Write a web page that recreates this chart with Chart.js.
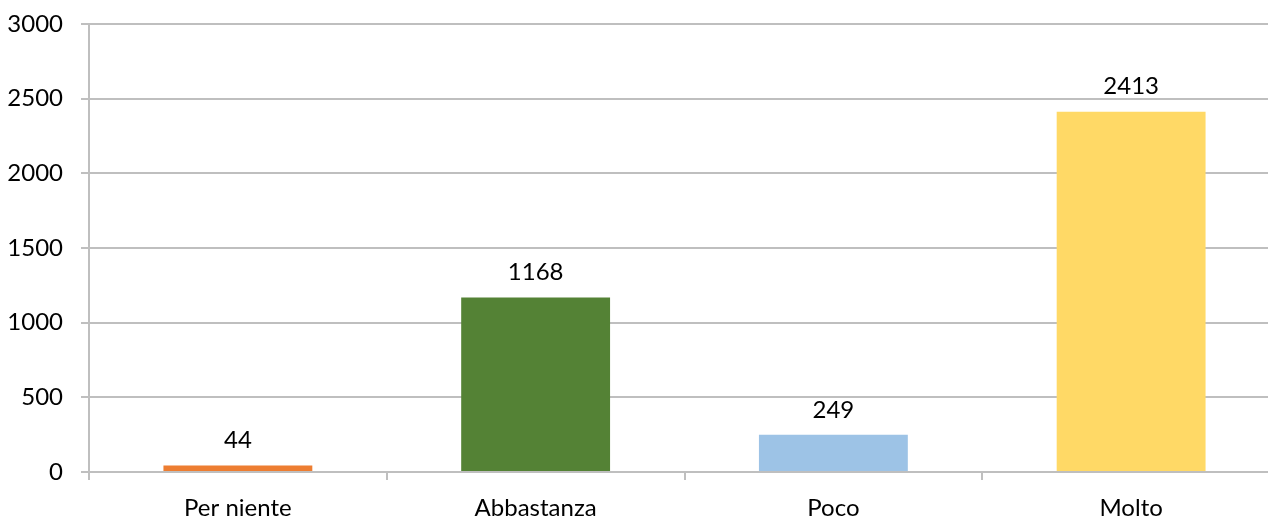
<!DOCTYPE html>
<html>
<head>
<meta charset="utf-8">
<script src="https://cdn.jsdelivr.net/npm/chart.js@4"></script>
<style>
  html, body { margin: 0; padding: 0; background: #fff; overflow: hidden; }
  #wrap { width: 1268px; height: 517px; overflow: hidden; }
</style>
</head>
<body>
<div id="wrap"><canvas id="chart" width="1280" height="517"></canvas></div>
<script>
const categories = ['Per niente', 'Abbastanza', 'Poco', 'Molto'];
const counts = [44, 1168, 249, 2413];
const barColors = ['#ED7D31', '#548235', '#9DC3E6', '#FFD966'];
const yTicks = [0, 500, 1000, 1500, 2000, 2500, 3000];

const fontFamily = 'Lato, "Open Sans", sans-serif';

// draw the value above each bar
const valueLabels = {
  id: 'valueLabels',
  afterDatasetsDraw(chart) {
    const ctx = chart.ctx;
    ctx.save();
    ctx.font = '24px ' + fontFamily;
    ctx.fillStyle = '#000';
    ctx.textAlign = 'center';
    ctx.textBaseline = 'middle';
    chart.getDatasetMeta(0).data.forEach((bar, i) => {
      ctx.fillText(String(counts[i]), bar.x, bar.y - 25);
    });
    ctx.restore();
  }
};

const ctx = document.getElementById('chart').getContext('2d');
new Chart(ctx, {
  type: 'bar',
  data: {
    labels: categories,
    datasets: [{
      data: counts,
      backgroundColor: barColors,
      borderWidth: 0,
      categoryPercentage: 1,
      barPercentage: 0.5
    }]
  },
  options: {
    responsive: false,
    devicePixelRatio: 1,
    animation: false,
    layout: { padding: { top: 24, right: 0, left: 0, bottom: 0 } },
    plugins: {
      legend: { display: false },
      tooltip: { enabled: false }
    },
    scales: {
      x: {
        grid: {
          display: true,
          drawOnChartArea: false,
          drawTicks: true,
          tickLength: 8,
          color: '#BFBFBF',
          lineWidth: 2
        },
        border: { color: '#BFBFBF', width: 2 },
        ticks: {
          color: '#000',
          font: { family: fontFamily, size: 24 },
          padding: 14
        },
        afterFit(scale) { scale.height = 45; }
      },
      y: {
        min: 0,
        max: 3000,
        afterBuildTicks(scale) { scale.ticks = yTicks.map(v => ({ value: v })); },
        grid: {
          color: '#BFBFBF',
          lineWidth: 2,
          tickLength: 8
        },
        border: { color: '#BFBFBF', width: 2 },
        ticks: {
          color: '#000',
          font: { family: fontFamily, size: 24 },
          padding: 18,
          callback: (v) => String(v)
        },
        afterFit(scale) {
          scale.width = 89;
          scale.paddingTop = 0;
          scale.paddingBottom = 0;
        }
      }
    }
  },
  plugins: [valueLabels]
});
</script>
</body>
</html>
